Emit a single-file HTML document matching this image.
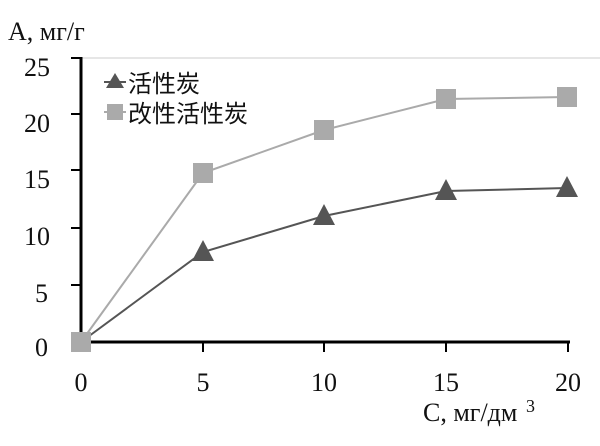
<!DOCTYPE html>
<html><head><meta charset="utf-8"><style>
body{margin:0;background:#fff;width:600px;height:441px;overflow:hidden}
text{font-family:"Liberation Serif",serif;font-size:26px;fill:#111}
.cj{font-family:"Liberation Sans","Noto Sans CJK SC",sans-serif;font-size:24px}
</style></head><body>
<svg width="600" height="441" xmlns="http://www.w3.org/2000/svg">
<line x1="82" y1="58" x2="600" y2="58" stroke="#ddd" stroke-width="1.5"/>
<line x1="81" y1="57" x2="81" y2="343" stroke="#000" stroke-width="3"/>
<line x1="80" y1="342" x2="570" y2="342" stroke="#000" stroke-width="3"/>
<g stroke="#000" stroke-width="2">
<line x1="71" y1="58" x2="81" y2="58"/><line x1="71" y1="114" x2="81" y2="114"/><line x1="71" y1="170" x2="81" y2="170"/><line x1="71" y1="228" x2="81" y2="228"/><line x1="71" y1="285" x2="81" y2="285"/>
<line x1="203" y1="342" x2="203" y2="352"/><line x1="324" y1="342" x2="324" y2="352"/><line x1="446" y1="342" x2="446" y2="352"/><line x1="568" y1="342" x2="568" y2="352"/>
</g>
<g text-anchor="end"><text x="50" y="76">25</text><text x="50" y="132">20</text><text x="50" y="188">15</text><text x="50" y="245">10</text><text x="48" y="302">5</text><text x="48" y="356">0</text></g>
<g text-anchor="middle"><text x="81" y="391">0</text><text x="203" y="391">5</text><text x="324" y="391">10</text><text x="446" y="391">15</text><text x="568" y="391">20</text></g>
<text x="8" y="40">A, мг/г</text>
<text x="423" y="421">C, мг/дм</text><text x="526" y="412" style="font-size:18px">3</text>
<polyline points="81,342 203,173 324,130 446,99 567,97" fill="none" stroke="#aaa" stroke-width="2"/>
<polyline points="81,342 203,252 324,216 446,191 567,188" fill="none" stroke="#555" stroke-width="2"/>
<g fill="#555"><polygon points="203,240 214,261 192,261"/><polygon points="324,204 335,225 313,225"/><polygon points="446,179 457,200 435,200"/><polygon points="567,176 578,197 556,197"/></g>
<g fill="#aaa"><rect x="71" y="332" width="20" height="20"/><rect x="193" y="163" width="20" height="20"/><rect x="314" y="120" width="20" height="20"/><rect x="436" y="89" width="20" height="20"/><rect x="557" y="87" width="20" height="20"/></g>
<line x1="104" y1="82" x2="126" y2="82" stroke="#555" stroke-width="2"/><polygon points="115,73 124,88 106,88" fill="#555"/>
<line x1="104" y1="112" x2="126" y2="112" stroke="#aaa" stroke-width="2"/><rect x="107" y="104" width="16" height="16" fill="#aaa"/>
<text class="cj" x="128" y="92">活性炭</text>
<text class="cj" x="128" y="122">改性活性炭</text>
</svg>
</body></html>
